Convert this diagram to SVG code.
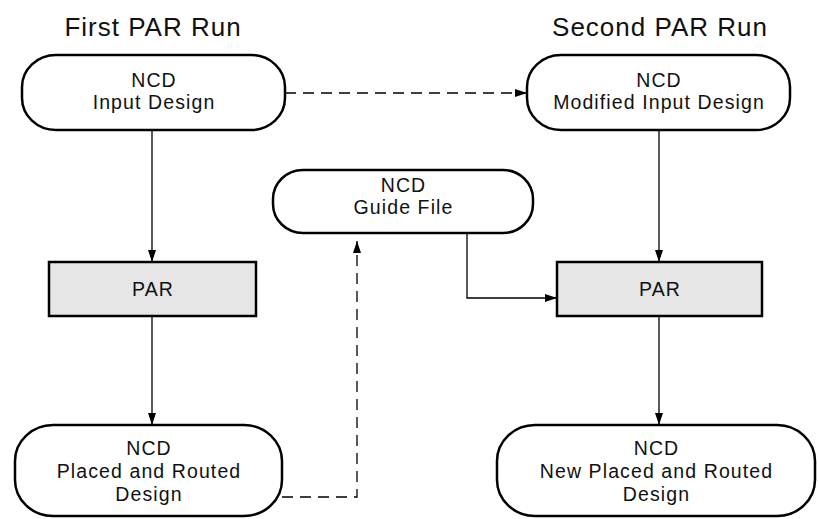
<svg xmlns="http://www.w3.org/2000/svg" width="818" height="519" viewBox="0 0 818 519">
<style>
.term{fill:#fff;stroke:#000;stroke-width:2.5}
.proc{fill:#e6e6e6;stroke:#000;stroke-width:2.5}
text{font-family:"Liberation Sans",Arial,sans-serif;fill:#111;text-anchor:middle}
.t{font-size:19.5px;letter-spacing:1.1px}
.h{font-size:26px;letter-spacing:1px}
.c{fill:none;stroke:#000;stroke-width:1.3}
.d{stroke-dasharray:11 7}
</style>
<defs>
<marker id="ah" viewBox="0 0 12 8" refX="12" refY="4" markerWidth="12" markerHeight="8" markerUnits="userSpaceOnUse" orient="auto">
<path d="M0,0 L12,4 L0,8 Z" fill="#000"/>
</marker>
</defs>
<text class="h" x="153" y="36">First PAR Run</text>
<text class="h" x="660" y="36">Second PAR Run</text>
<g id="connectors">
<path class="c" d="M152,130 V262" marker-end="url(#ah)"/>
<path class="c" d="M152,316 V425" marker-end="url(#ah)"/>
<path class="c" d="M659,130 V262" marker-end="url(#ah)"/>
<path class="c" d="M659,316 V425" marker-end="url(#ah)"/>
<path class="c d" d="M285,93 H527" marker-end="url(#ah)"/>
<path class="c" d="M467,233 V298 H557" marker-end="url(#ah)"/>
<path class="c d" d="M282,497 H357 V241" marker-end="url(#ah)"/>
</g>
<g id="input">
<rect class="term" x="22" y="55" width="263" height="75" rx="34" ry="32"/>
<text class="t" x="154" y="87">NCD</text>
<text class="t" x="154" y="109">Input Design</text>
</g>
<g id="modified">
<rect class="term" x="527" y="55" width="263" height="75" rx="34" ry="32"/>
<text class="t" x="659" y="87">NCD</text>
<text class="t" x="659" y="109">Modified Input Design</text>
</g>
<g id="guide">
<rect class="term" x="273" y="170" width="260" height="63" rx="30" ry="29"/>
<text class="t" x="403.5" y="192">NCD</text>
<text class="t" x="403.5" y="214">Guide File</text>
</g>
<g id="par1">
<rect class="proc" x="49" y="262" width="207" height="54"/>
<text class="t" x="153" y="296">PAR</text>
</g>
<g id="par2">
<rect class="proc" x="557" y="262" width="205" height="54"/>
<text class="t" x="660" y="296">PAR</text>
</g>
<g id="placed">
<rect class="term" x="15" y="425" width="267" height="91" rx="38" ry="36"/>
<text class="t" x="149" y="455">NCD</text>
<text class="t" x="149" y="478">Placed and Routed</text>
<text class="t" x="149" y="501">Design</text>
</g>
<g id="newplaced">
<rect class="term" x="497" y="425" width="318" height="91" rx="38" ry="36"/>
<text class="t" x="656.5" y="455">NCD</text>
<text class="t" x="656.5" y="478">New Placed and Routed</text>
<text class="t" x="656.5" y="501">Design</text>
</g>
</svg>
